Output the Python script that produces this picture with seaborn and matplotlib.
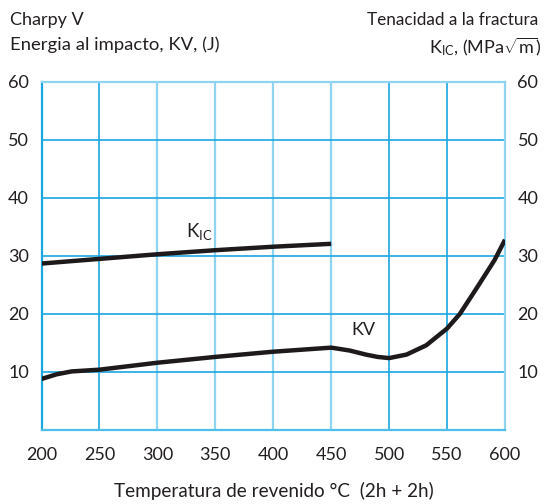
import matplotlib
matplotlib.use("Agg")
import matplotlib.pyplot as plt
import seaborn as sns
import pandas as pd

# Data
kic_x = [200, 250, 300, 350, 400, 450]
kic_y = [28.7, 29.5, 30.3, 31.0, 31.6, 32.1]

kv_x = [200, 213, 226, 250, 300, 350, 400, 450, 466, 480, 490, 500, 515, 532, 550, 561, 576, 591, 600]
kv_y = [8.8, 9.6, 10.1, 10.4, 11.6, 12.6, 13.5, 14.2, 13.7, 13.0, 12.6, 12.4, 13.0, 14.6, 17.5, 20.0, 24.6, 29.3, 32.8]

x_ticks = [200, 250, 300, 350, 400, 450, 500, 550, 600]
y_ticks = [10, 20, 30, 40, 50, 60]

sns.set_style("white")
plt.rcParams['font.family'] = ['Lato', 'DejaVu Sans']
plt.rcParams['mathtext.fontset'] = 'custom'
plt.rcParams['mathtext.rm'] = 'Lato'
plt.rcParams['mathtext.it'] = 'Lato'
plt.rcParams['lines.solid_capstyle'] = 'butt'
plt.rcParams['lines.solid_joinstyle'] = 'round'

TXT = '#231f20'
DARK = '#1aa7e0'
LIGHT = '#8ed4f0'

fig = plt.figure(figsize=(5.49, 5.04), dpi=100)
ax = fig.add_axes([41.5/549, 1-430/504, (505-41.5)/549, (430-82)/504])

# grid
vcolors = {250: DARK, 300: LIGHT, 350: LIGHT, 400: LIGHT, 450: LIGHT, 500: DARK, 550: DARK}
for xv, c in vcolors.items():
    ax.axvline(xv, color=c, lw=1.6 if c == LIGHT else 1.2, zorder=1)
for yv in [10, 20, 30, 40, 50]:
    ax.axhline(yv, color=DARK, lw=1.2, zorder=1)

df_kic = pd.DataFrame({'T': kic_x, 'v': kic_y})
df_kv = pd.DataFrame({'T': kv_x, 'v': kv_y})
sns.lineplot(data=df_kic, x='T', y='v', ax=ax, color='#1e1a1b', lw=3.2, zorder=3)
sns.lineplot(data=df_kv, x='T', y='v', ax=ax, color='#1e1a1b', lw=3.2, zorder=3)

ax.set_xlim(200, 600)
ax.set_ylim(0, 60)
ax.set_xticks(x_ticks)
ax.set_yticks(y_ticks)
ax.set_xlabel('')
ax.set_ylabel('')
ax.tick_params(axis='both', length=0, labelsize=13, labelcolor=TXT)
ax.tick_params(axis='x', pad=12)
ax.tick_params(axis='y', pad=9, labelleft=True, labelright=True)

for side, c in [('left', DARK), ('bottom', '#4dbfe8'), ('right', LIGHT), ('top', LIGHT)]:
    ax.spines[side].set_visible(True)
    ax.spines[side].set_color(c)
    ax.spines[side].set_linewidth(1.6)

ax.text(336, 34.2, r'K$_\mathrm{IC}$', fontsize=13.5, color=TXT, ha='center', va='center')
ax.text(478, 17.2, 'KV', fontsize=13, color=TXT, ha='center', va='center')

fig.text(10/549, 1-20/504, 'Charpy V', fontsize=13, color=TXT, ha='left', va='center')
fig.text(10/549, 1-45/504, 'Energia al impacto, KV, (J)', fontsize=13.3, color=TXT, ha='left', va='center')
fig.text(538/549, 1-20/504, 'Tenacidad a la fractura', fontsize=12.3, color=TXT, ha='right', va='center')
fig.text(541/549, 1-47/504, r'K$_\mathrm{IC}$, (MPa$\sqrt{\mathrm{m}}$)', fontsize=13, color=TXT, ha='right', va='center')
fig.text(274/549, 1-491/504, 'Temperatura de revenido °C  (2h + 2h)', fontsize=13.6, color=TXT, ha='center', va='center')

fig.savefig('out.png', dpi=100)
